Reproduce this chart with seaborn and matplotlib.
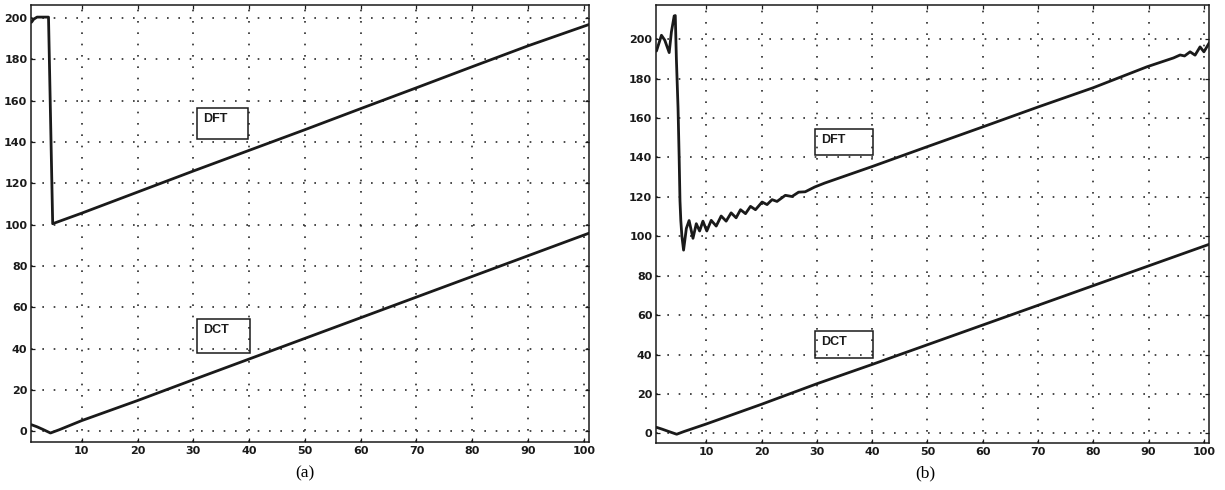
import matplotlib
matplotlib.use("Agg")
import matplotlib.pyplot as plt
from matplotlib.patches import Rectangle
import seaborn as sns

# values
A_DFT_X = [1, 1.4, 2, 4.05, 4.8, 10, 20, 30, 40, 50, 60, 70, 80, 90, 101]
A_DFT_Y = [198, 199.5, 200.5, 200.5, 100.5, 105.6, 115.8, 126, 136, 146, 156.2, 166.3, 176.5, 186.6, 197]
A_DCT_X = [1, 2, 3, 4.4, 6, 10, 20, 30, 40, 50, 60, 70, 80, 90, 101]
A_DCT_Y = [3.2, 2.2, 1, -0.8, 0.8, 5.2, 14.9, 25, 35, 45, 55, 65, 75, 85, 96]

B_DFT_X = [1, 1.9, 2.5, 3.3, 3.7, 4.2, 4.4, 4.6, 4.9, 5.1, 5.25, 5.4, 5.6, 5.9,
           6.4, 6.9, 7.6, 8.2, 8.8, 9.4, 10.1, 10.9, 11.8, 12.7, 13.6, 14.5,
           15.4, 16.2, 17.1, 18.0, 18.9, 20.1, 21.0, 21.9, 22.8, 24.3, 25.5,
           26.7, 27.9, 29.6, 31.4, 40, 50, 60, 70, 80, 89.7, 94.5, 95.7, 96.5,
           97.5, 98.4, 99.3, 100, 101]
B_DFT_Y = [194, 202, 199.5, 193.2, 203.7, 211.8, 212, 190, 165, 140, 118, 108, 100, 93,
           104, 108, 99, 106.4, 102.7, 107.7, 102.7, 108.1, 105.2, 110.3, 107.7, 111.9,
           109.4, 113.5, 111.5, 115.2, 113.5, 117.4, 116.1, 118.6, 117.7, 120.8, 120.2,
           122.4, 122.6, 125, 127, 135.4, 145.5, 155.5, 165.6, 175.4, 186, 190.5, 192, 191.5,
           193.6, 191.9, 196.1, 193.6, 198.3]
B_DCT_X = [1, 2, 3, 4.65, 6, 10, 20, 30, 40, 50, 60, 70, 80, 90, 101]
B_DCT_Y = [3.1, 2.2, 1.2, -0.4, 1, 4.8, 14.8, 25.2, 35, 45, 55, 65, 75, 85, 96]

X_TICKS = [10, 20, 30, 40, 50, 60, 70, 80, 90, 100]
Y_TICKS = [0, 20, 40, 60, 80, 100, 120, 140, 160, 180, 200]
PANEL_LABELS = ["(a)", "(b)"]
BOX_LABELS = ["DFT", "DCT"]

# label boxes in data units: (x0, x1, y0, y1)
A_BOXES = [(30.7, 39.8, 141.3, 156.6), (30.7, 40.1, 38.0, 54.4)]
B_BOXES = [(29.7, 40.2, 141.4, 154.5), (29.7, 40.1, 38.4, 51.8)]

sns.set_theme(style="white")
plt.rcParams["font.family"] = ["DejaVu Sans"]

INK = "#1a1a1a"


def style_axes(ax, ylim):
    ax.set_xlim(1, 101)
    ax.set_ylim(*ylim)
    ax.set_xticks(X_TICKS)
    ax.set_yticks(Y_TICKS)
    ax.set_xticklabels([str(t) for t in X_TICKS], fontsize=8, fontweight="bold", color=INK)
    ax.set_yticklabels([str(t) for t in Y_TICKS], fontsize=8, fontweight="bold", color=INK)
    ax.tick_params(direction="in", length=3, width=0.9, color=INK, top=True, right=True,
                   bottom=True, left=True, pad=3)
    ax.set_xlabel("")
    ax.set_ylabel("")
    ax.grid(True, linestyle=(0, (1, 5.8)), linewidth=1.2, color="#2a2a2a")
    for sp in ax.spines.values():
        sp.set_color(INK)
        sp.set_linewidth(1.1)
        sp.set_visible(True)


def draw_boxes(ax, boxes):
    for (x0, x1, y0, y1), label in zip(boxes, BOX_LABELS):
        ax.add_patch(Rectangle((x0, y0), x1 - x0, y1 - y0, fill=False,
                               edgecolor=INK, linewidth=1.1, zorder=3))
        ax.annotate(label, xy=(x0, y1), xytext=(4.4, -3.6), textcoords="offset points",
                    ha="left", va="top", fontsize=9, fontweight="bold",
                    family="Liberation Sans", color=INK, zorder=4)


fig = plt.figure(figsize=(12.25, 4.9), dpi=100)
ax_a = fig.add_axes([0.0257, 0.0986, 0.4555, 0.8918])
ax_b = fig.add_axes([0.5359, 0.0953, 0.4514, 0.8951])

for ax, xs, ys in [(ax_a, A_DFT_X, A_DFT_Y), (ax_a, A_DCT_X, A_DCT_Y),
                   (ax_b, B_DFT_X, B_DFT_Y), (ax_b, B_DCT_X, B_DCT_Y)]:
    sns.lineplot(x=xs, y=ys, ax=ax, color=INK, linewidth=2.0, estimator=None, sort=False)

style_axes(ax_a, (-5, 206.5))
style_axes(ax_b, (-5, 217.5))
draw_boxes(ax_a, A_BOXES)
draw_boxes(ax_b, B_BOXES)

fig.text(0.249, 0.033, PANEL_LABELS[0], ha="center", va="center", fontsize=12.5,
         family="Liberation Serif", color="black")
fig.text(0.755, 0.033, PANEL_LABELS[1], ha="center", va="center", fontsize=12.5,
         family="Liberation Serif", color="black")

fig.savefig("out.png", dpi=100, facecolor="white")
